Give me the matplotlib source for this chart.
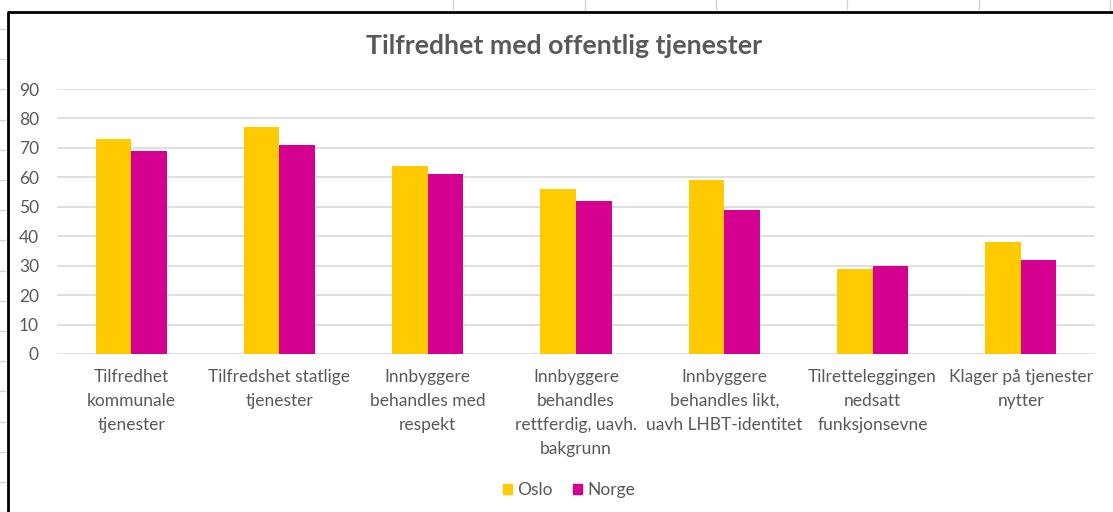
import matplotlib
matplotlib.use("Agg")
import matplotlib.pyplot as plt
from matplotlib.lines import Line2D
from matplotlib.patches import Patch
import numpy as np

categories = [
    "Tilfredhet\nkommunale\ntjenester",
    "Tilfredshet statlige\ntjenester",
    "Innbyggere\nbehandles med\nrespekt",
    "Innbyggere\nbehandles\nrettferdig, uavh.\nbakgrunn",
    "Innbyggere\nbehandles likt,\nuavh LHBT-identitet",
    "Tilretteleggingen\nnedsatt\nfunksjonsevne",
    "Klager på tjenester\nnytter",
]
oslo = [73, 77, 64, 56, 59, 29, 38]
norge = [69, 71, 61, 52, 49, 30, 32]
yticks = [0, 10, 20, 30, 40, 50, 60, 70, 80, 90]

title = "Tilfredhet med offentlig tjenester"
c_oslo = "#FFCA00"
c_norge = "#D50090"
txt = "#595959"
plt.rcParams["font.family"] = ["Lato", "DejaVu Sans"]

W, H = 1113, 512
fig = plt.figure(figsize=(W / 100, H / 100), dpi=100)
fig.patch.set_facecolor("white")

ax = fig.add_axes([57 / W, 158 / H, (1095 - 57) / W, (354 - 89) / H])
x = np.arange(len(categories))
bw = 0.24
ax.bar(x - bw / 2, oslo, bw, color=c_oslo, zorder=3, label="Oslo")
ax.bar(x + bw / 2, norge, bw, color=c_norge, zorder=3, label="Norge")
ax.set_xlim(-0.5, len(categories) - 0.5)
ax.set_ylim(0, 90)
ax.set_yticks(yticks)
ax.set_xticks(x)
ax.set_xticklabels(categories, fontsize=12.5, color=txt, linespacing=1.6)
ax.tick_params(axis="y", length=0, pad=13, labelsize=12.5, labelcolor=txt)
ax.tick_params(axis="x", length=0, pad=11)
ax.grid(axis="y", color="#d9d9d9", lw=1.2, zorder=0)
for s in ax.spines.values():
    s.set_visible(False)

fig.text(564 / W, 1 - 46 / H, title, ha="center", va="center",
         fontsize=19.2, fontweight="bold", color=txt)

handles = [Patch(color=c_oslo, label="Oslo"), Patch(color=c_norge, label="Norge")]
fig.legend(handles=handles, loc="center", bbox_to_anchor=(569 / W, 1 - 490 / H),
           ncol=2, frameon=False, fontsize=12.5, labelcolor=txt,
           handlelength=0.5, handleheight=0.5, handletextpad=0.3, columnspacing=1.2)

# chart frame
fy = 1 - 12 / H
fx = 7.5 / W
fig.add_artist(Line2D([fx, fx, 1.0], [0, fy, fy], color="black", lw=2, transform=fig.transFigure))

# spreadsheet cell lines outside chart
for xv in [453, 585, 716, 847, 979, 1110]:
    fig.add_artist(Line2D([xv / W, xv / W], [1 - 10 / H, 1.0], color="#d4d4d4", lw=1, transform=fig.transFigure))
for i in range(17):
    yv = 29 + 30.2 * i
    fig.add_artist(Line2D([0, 5 / W], [1 - yv / H, 1 - yv / H], color="#d4d4d4", lw=1, transform=fig.transFigure))

fig.savefig("out.png", dpi=100)
